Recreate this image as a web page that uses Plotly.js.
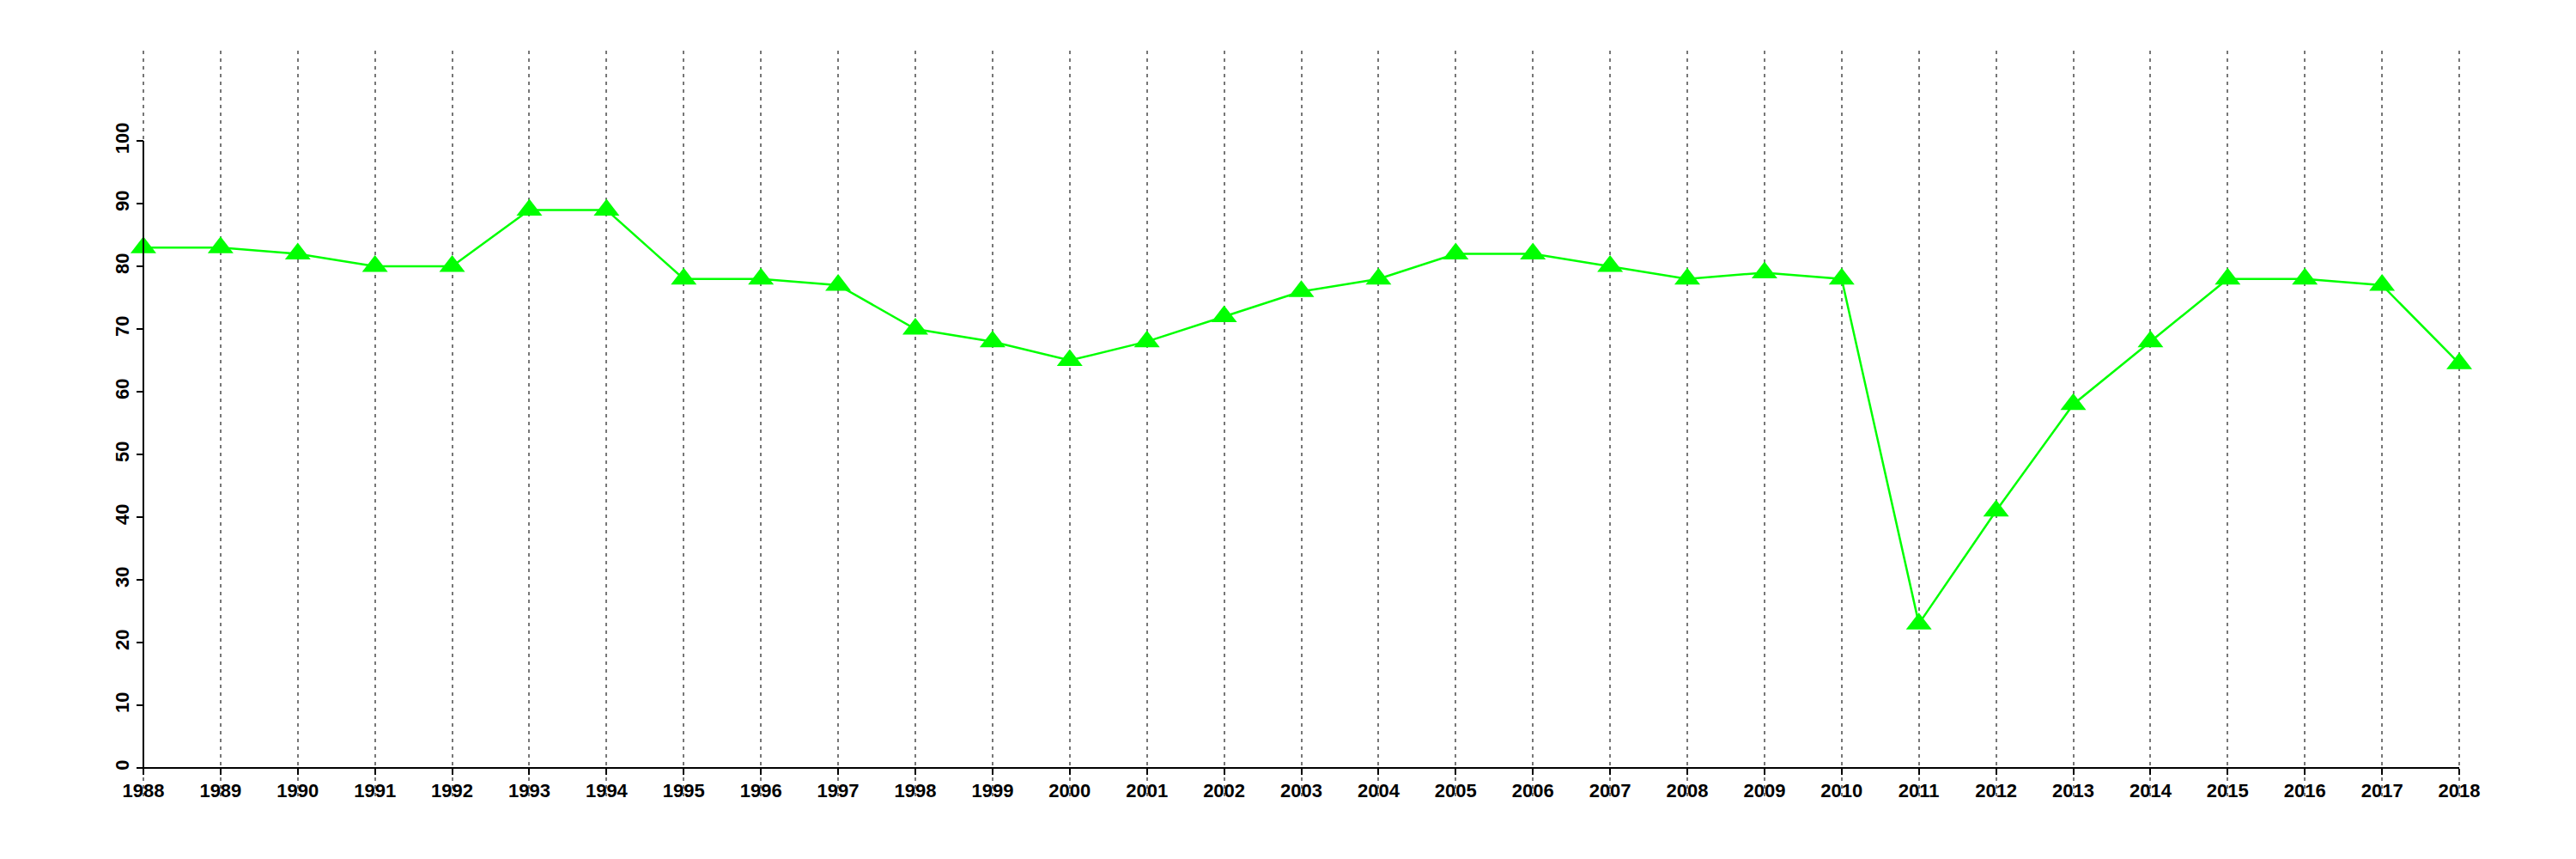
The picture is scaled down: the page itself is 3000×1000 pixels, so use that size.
<!DOCTYPE html>
<html>
<head>
<meta charset="utf-8">
<script src="https://cdn.plot.ly/plotly-3.0.1.min.js"></script>
<style>
  html, body { margin: 0; padding: 0; background: #fff; }
  #chart { width: 3000px; height: 1000px; }
</style>
</head>
<body>
<div id="chart"></div>
<script>
const years = [1988,1989,1990,1991,1992,1993,1994,1995,1996,1997,1998,1999,2000,2001,2002,2003,2004,2005,2006,2007,2008,2009,2010,2011,2012,2013,2014,2015,2016,2017,2018];
const values = [83,83,82,80,80,89,89,78,78,77,70,68,65,68,72,76,78,82,82,80,78,79,78,23,41,58,68,78,78,77,64.5];
const yTicks = [0,10,20,30,40,50,60,70,80,90,100];

const W = 3000, H = 1000;
const mL = 140, mR = 100, mT = 59, mB = 73;
const xRange = [1987.7, 2018.4];
const yRange = [-4.52, 114.4];
const xFirst = years[0], xLast = years[years.length - 1];
const yMin = yTicks[0], yMax = yTicks[yTicks.length - 1];

const xPos = (xFirst - xRange[0]) / (xRange[1] - xRange[0]);
const yPos = (yMin - yRange[0]) / (yRange[1] - yRange[0]);

const tickFont = { family: 'Liberation Sans, Arial, sans-serif', size: 22, color: '#000', weight: 700 };

const trace = {
  x: years,
  y: values,
  type: 'scatter',
  mode: 'lines+markers',
  line: { color: '#00ff00', width: 2.5 },
  marker: { symbol: 'triangle-up', size: 26, color: '#00ff00', line: { width: 0 } },
  cliponaxis: false,
  hoverinfo: 'x+y'
};

const layout = {
  width: W, height: H,
  margin: { l: mL, r: mR, t: mT, b: mB },
  paper_bgcolor: '#fff',
  plot_bgcolor: '#fff',
  showlegend: false,
  xaxis: {
    range: xRange,
    anchor: 'free',
    position: yPos,
    tickmode: 'array',
    tickvals: years,
    ticktext: years.map(String),
    ticks: 'outside',
    ticklen: 7,
    tickwidth: 2,
    tickcolor: '#000',
    showline: false,
    zeroline: false,
    showgrid: true,
    gridcolor: '#777777',
    gridwidth: 2,
    griddash: '4px,5px',
    tickfont: tickFont
  },
  yaxis: {
    range: yRange,
    anchor: 'free',
    position: xPos,
    tickmode: 'array',
    tickvals: yTicks,
    ticktext: yTicks.map(String),
    ticks: 'outside',
    ticklen: 8,
    tickwidth: 2,
    tickcolor: '#000',
    tickangle: -90,
    showline: false,
    zeroline: false,
    showgrid: false,
    tickfont: tickFont
  },
  shapes: [
    { type: 'line', xref: 'x', yref: 'y', x0: xFirst, x1: xLast, y0: yMin, y1: yMin, line: { color: '#000', width: 2 }, layer: 'above' },
    { type: 'line', xref: 'x', yref: 'y', x0: xFirst, x1: xFirst, y0: yMin, y1: yMax, line: { color: '#000', width: 2 }, layer: 'above' }
  ]
};

Plotly.newPlot('chart', [trace], layout, { displayModeBar: false, staticPlot: true });
</script>
</body>
</html>
